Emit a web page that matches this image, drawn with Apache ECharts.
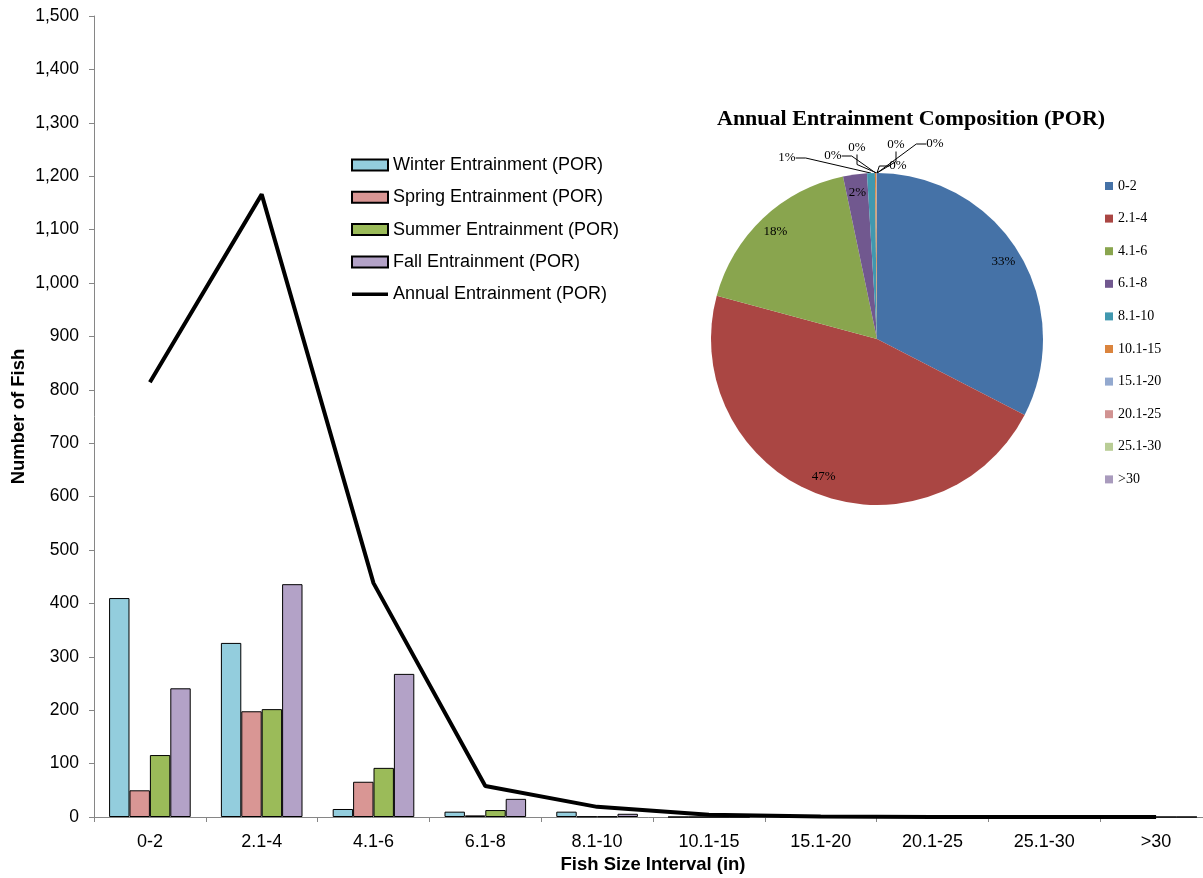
<!DOCTYPE html>
<html><head><meta charset="utf-8">
<script src="https://cdn.jsdelivr.net/npm/echarts@6/dist/echarts.min.js"></script>
<style>html,body{margin:0;padding:0;background:#fff}#c{width:1203px;height:878px}</style>
</head><body><div id="c"></div>
<script>
// ---- data ----
const categories = ['0-2','2.1-4','4.1-6','6.1-8','8.1-10','10.1-15','15.1-20','20.1-25','25.1-30','>30'];
const winter = [410, 326, 15, 10, 10, 0, 0, 0, 0, 0];
const spring = [50, 198, 66, 3, 1, 0, 0, 0, 0, 0];
const summer = [116, 202, 92, 13, 1, 0, 0, 0, 0, 0];
const fall   = [241, 436, 268, 34, 6, 0, 0, 0, 0, 0];
const annual = [814, 1166, 438, 58, 19, 4, 1, 0, 0, 0];
const seriesNames = ['Winter Entrainment (POR)','Spring Entrainment (POR)','Summer Entrainment (POR)','Fall Entrainment (POR)','Annual Entrainment (POR)'];
const yMin = 0, yMax = 1500, yStep = 100;
const pieTitle = 'Annual Entrainment Composition (POR)';

// ---- styles ----
const barColors = ['#93CDDD', '#D99694', '#9BBB59', '#B3A2C7'];
const pieColors = ['#4572A7','#AA4643','#89A54E','#71588F','#4198AF','#DB843D','#93A9CF','#D19392','#B9CD96','#A99BBD'];
const pieInside = [true, true, true, true, false, false, false, false, false, false];
// offsets of outside label centres from the top of the pie
const pieLabelOffsets = [null, null, null, null, [-90,-15], [-44,-17], [-20,-25], [21,-7], [19,-28], [58,-29]];
const sans = 'Liberation Sans, Arial, sans-serif';
const serif = 'Liberation Serif, Times New Roman, serif';

const chart = echarts.init(document.getElementById('c'), null, {renderer: 'canvas'});

const barSeries = [winter, spring, summer, fall].map((d, i) => ({
  name: seriesNames[i], type: 'bar', data: d,
  barGap: '0%', barCategoryGap: '27%',
  itemStyle: {color: barColors[i], borderColor: '#000', borderWidth: 1},
  xAxisIndex: 0, yAxisIndex: 0
}));

const pct = p => Math.round(p.percent) + '%';

const pieMain = categories.map((c, i) => ({
  name: c, value: annual[i],
  itemStyle: {color: pieColors[i]},
  label: {show: !pieInside[i]},
  labelLine: {show: !pieInside[i]}
}));
const pieOverlay = categories.map((c, i) => ({
  name: c, value: annual[i],
  label: {show: pieInside[i]}
}));

chart.setOption({
  animation: false,
  backgroundColor: '#fff',
  title: {
    text: pieTitle, left: 717, top: 108, padding: 0,
    textStyle: {fontFamily: serif, fontSize: 22, fontWeight: 'bold', color: '#000'}
  },
  legend: [{
    orient: 'vertical', left: 351, top: 156, padding: 0,
    itemWidth: 36, itemHeight: 11, itemGap: 14.3,
    textStyle: {fontFamily: sans, fontSize: 18, color: '#000', lineHeight: 18},
    data: seriesNames.map((n, i) => i < 4 ? {name: n, icon: 'rect'} :
      {name: n, icon: 'path://M0,0h40v4h-40z', itemStyle: {color: '#000', borderWidth: 0}})
  }, {
    orient: 'vertical', left: 1105, top: 179, padding: 0,
    itemWidth: 8, itemHeight: 8, itemGap: 18.6,
    textStyle: {fontFamily: serif, fontSize: 14, color: '#000', lineHeight: 14},
    icon: 'rect',
    data: categories
  }],
  grid: {left: 94, width: 1118, top: 16, height: 801, containLabel: false, outerBoundsMode: 'none'},
  xAxis: {
    type: 'category', data: categories, boundaryGap: true,
    axisLine: {lineStyle: {color: '#868686', width: 1}},
    axisTick: {show: true, length: 5, interval: 0, lineStyle: {color: '#868686'}},
    axisLabel: {interval: 0, fontFamily: sans, fontSize: 18, color: '#000', margin: 16},
    name: 'Fish Size Interval (in)', nameLocation: 'middle', nameGap: 36,
    nameTextStyle: {fontFamily: sans, fontSize: 18.5, fontWeight: 'bold', color: '#000'}
  },
  yAxis: {
    type: 'value', min: yMin, max: yMax, interval: yStep,
    splitLine: {show: false},
    axisLine: {show: true, lineStyle: {color: '#868686', width: 1}},
    axisTick: {show: true, length: 5, lineStyle: {color: '#868686'}},
    axisLabel: {fontFamily: sans, fontSize: 17.5, color: '#000', margin: 15,
      formatter: v => v.toLocaleString('en-US')},
    name: 'Number of Fish', nameLocation: 'middle', nameRotate: 90, nameGap: 66,
    nameMoveOverlap: false,
    nameTextStyle: {fontFamily: sans, fontSize: 18.5, fontWeight: 'bold', color: '#000'}
  },
  series: barSeries.concat([{
    name: seriesNames[4], type: 'line', data: annual, symbol: 'none', showSymbol: false,
    lineStyle: {color: '#000', width: 4}, itemStyle: {color: '#000'}, z: 5
  }, {
    name: 'pieMain', type: 'pie', center: [877, 339], radius: 166,
    startAngle: 90, clockwise: true, percentPrecision: 2,
    avoidLabelOverlap: false, data: pieMain,
    label: {position: 'outside', formatter: pct, fontFamily: serif, fontSize: 13, color: '#000'},
    labelLine: {show: true, length: 10, length2: 10, lineStyle: {color: '#000', width: 1}},
    labelLayout: function (p) {
      const off = pieLabelOffsets[p.dataIndex];
      if (!off) return {};
      return {x: p.rect.x + p.rect.width + off[0], y: p.rect.y + off[1], align: 'center', verticalAlign: 'middle'};
    },
    emphasis: {disabled: true}, z: 3
  }, {
    name: 'pieLabels', type: 'pie', center: [877, 339], radius: [122, 168],
    startAngle: 90, clockwise: true, percentPrecision: 2, silent: true,
    avoidLabelOverlap: false, data: pieOverlay,
    itemStyle: {color: 'rgba(0,0,0,0)'},
    label: {position: 'inside', formatter: pct, fontFamily: serif, fontSize: 13, color: '#000'},
    labelLine: {show: false},
    emphasis: {disabled: true}, z: 4
  }])
});
</script>
</body></html>
